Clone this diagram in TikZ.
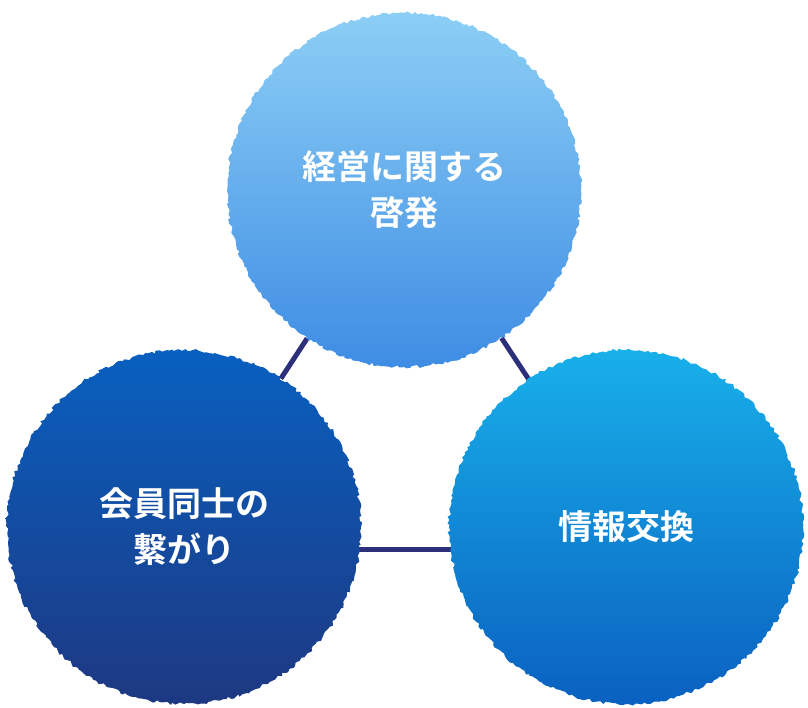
\documentclass[tikz,border=0pt]{standalone}
\usepackage{fontspec}
\newfontfamily\cjk{Noto Sans CJK JP Bold}
\usetikzlibrary{backgrounds,decorations.pathmorphing}
\definecolor{ctopA}{RGB}{140,207,245}
\definecolor{ctopB}{RGB}{62,140,228}
\definecolor{cleftA}{RGB}{8,96,192}
\definecolor{cleftB}{RGB}{30,56,130}
\definecolor{crightA}{RGB}{24,176,234}
\definecolor{crightB}{RGB}{10,96,192}
\definecolor{cline}{RGB}{46,47,122}

\begin{document}
\begin{tikzpicture}[x=1pt, y=-1pt,
    disc/.style={circle, minimum size=354pt, inner sep=0pt, align=center,
                 text=white, font=\cjk\fontsize{34}{46}\selectfont,
                 decorate, decoration={random steps, segment length=3pt, amplitude=1.6pt}},
    link/.style={draw=cline, line width=5pt}
  ]
  \useasboundingbox (0,0) rectangle (808,708);
  % circles
  \node[disc, top color=ctopA, bottom color=ctopB] (kei) at (404,190) {経営に関する\\啓発};
  \node[disc, top color=cleftA, bottom color=cleftB] (kai) at (184,527) {会員同士の\\繋がり};
  \node[disc, top color=crightA, bottom color=crightB] (jou) at (626,527) {情報交換};
  % links
  \begin{scope}[on background layer]
    \path[link] (kei) -- (kai);
    \path[link] (kei) -- (jou);
    \path[link] ([yshift=-22pt]kai.center) -- ([yshift=-22pt]jou.center);
  \end{scope}
\end{tikzpicture}
\end{document}
